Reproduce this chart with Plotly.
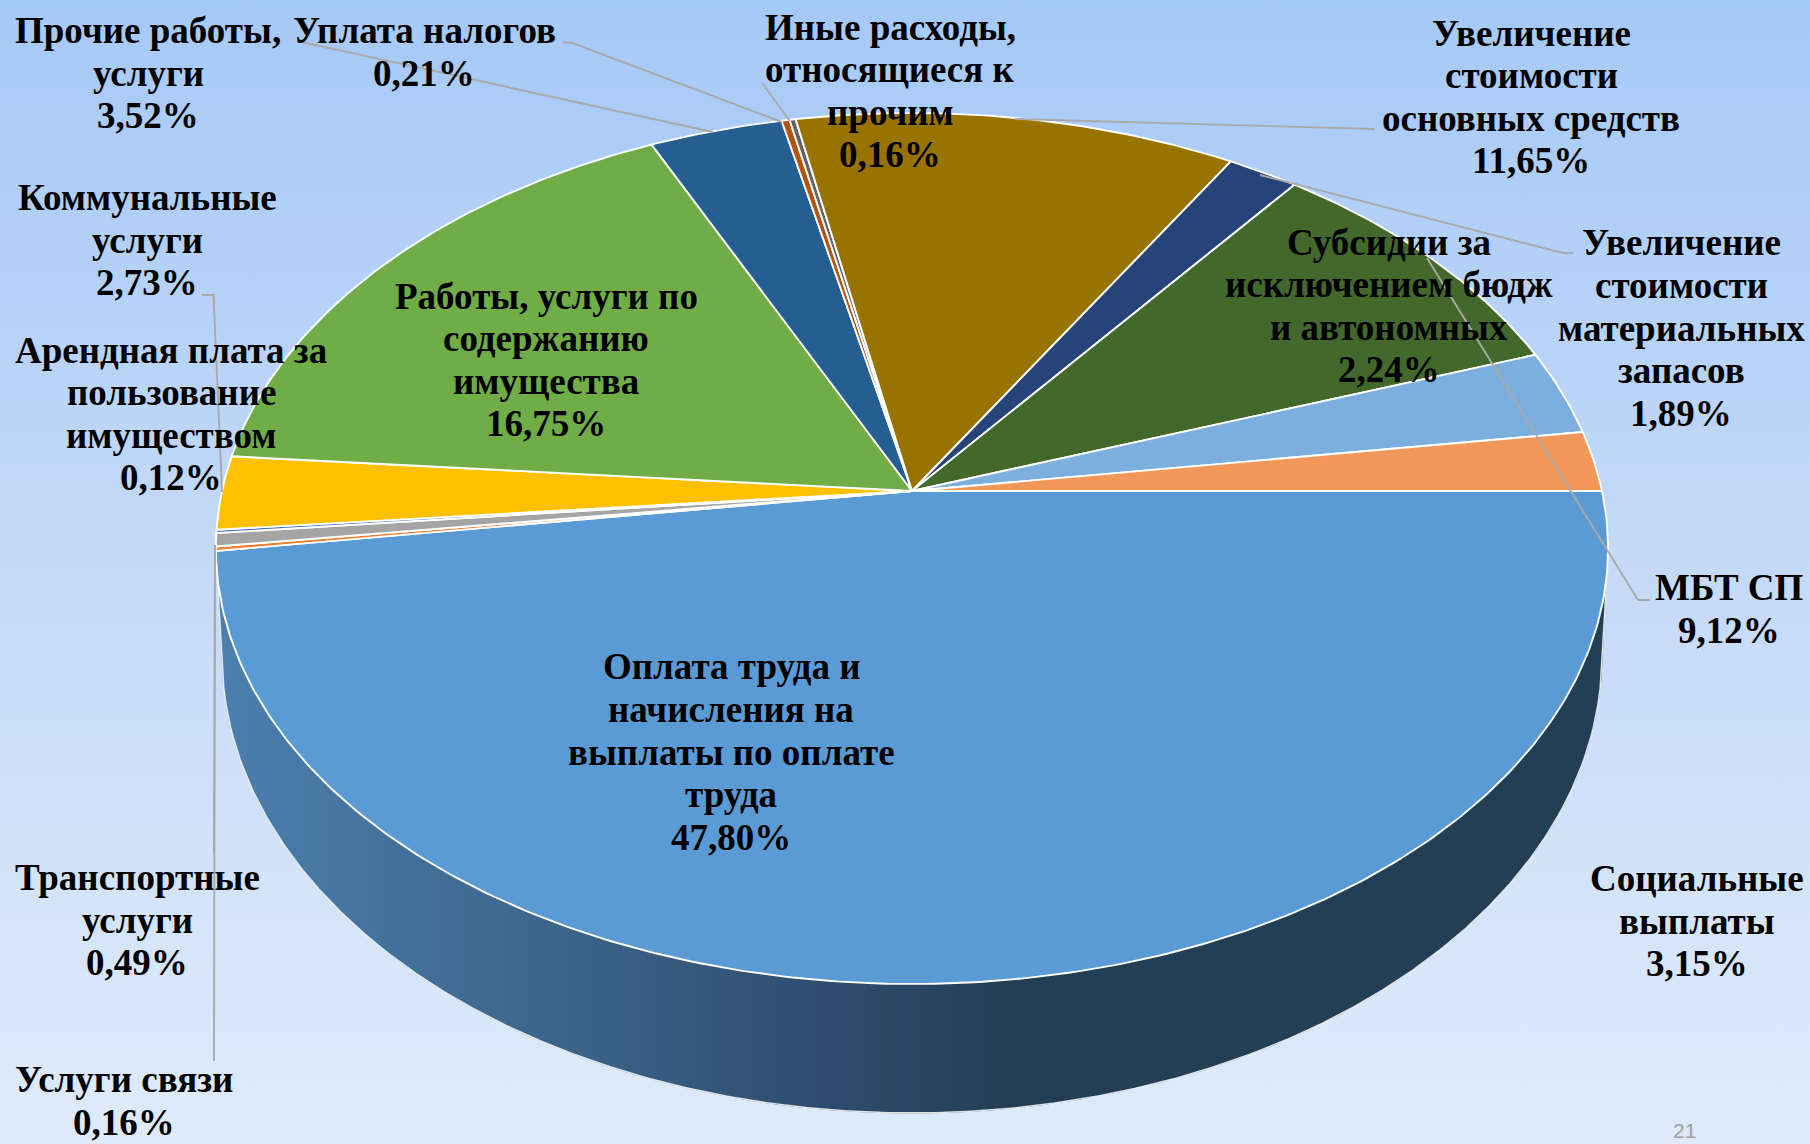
import math
import plotly.graph_objects as go

# ---------- data ----------
categories = [
    "Оплата труда и<br>начисления на<br>выплаты по оплате<br>труда",
    "Услуги связи",
    "Транспортные<br>услуги",
    "Арендная плата за<br>пользование<br>имуществом",
    "Коммунальные<br>услуги",
    "Работы, услуги по<br>содержанию<br>имущества",
    "Прочие работы,<br>услуги",
    "Уплата налогов",
    "Иные расходы,<br>относящиеся к<br>прочим",
    "Увеличение<br>стоимости<br>основных средств",
    "Увеличение<br>стоимости<br>материальных<br>запасов",
    "МБТ СП",
    "Социальные<br>выплаты",
    "Субсидии за<br>исключением бюдж<br>и автономных",
]
values = [47.80, 0.16, 0.49, 0.12, 2.73, 16.75, 3.52, 0.21, 0.16, 11.65, 1.89, 9.12, 3.15, 2.24]
colors = ["#5B9BD5", "#ED7D31", "#A5A5A5", "#4472C4", "#FFC000", "#70AD47", "#255E91",
          "#B8520F", "#636363", "#997300", "#264478", "#43682B", "#7CAFDD", "#F1975A"]
# label block centres (px on the 1810x1144 canvas)
label_x = [731, 124, 137, 171, 147, 546, 148, 424, 890, 1531, 1681, 1729, 1697, 1389]
label_y = [752, 1101, 920, 414, 240, 360, 73, 52, 91, 97, 328, 609, 921, 306]
LINE_STEP = 42.6

# ---------- projection of the 3D pie ----------
W, H = 1810, 1144
CX, CY = 912.0, 491.0
A, B, K = 690.0, 427.9, 0.132
BOT_RX, BOT_RY, BOT_YC = 690.0, 458.0, 655.0
TOP_RX = A / math.sqrt(1 - K * K)
TOP_RY = B / (1 - K * K)
TOP_YC = CY + B * K / (1 - K * K)
WALL_RX = TOP_RX - 1


def project(theta):
    X, Y = math.cos(theta), math.sin(theta)
    w = 1 - K * Y
    return CX + A * X / w, CY + B * Y / w


def top_y(x):
    u = max(0.0, 1 - ((x - CX) / TOP_RX) ** 2)
    return TOP_YC + TOP_RY * math.sqrt(u)


def bot_y(x):
    dx = abs(x - CX)
    if dx >= BOT_RX:  # taper the wall into the rim of the top face
        t = (dx - BOT_RX) / (WALL_RX - BOT_RX)
        return BOT_YC * (1 - t) + top_y(CX + WALL_RX) * t
    return BOT_YC + BOT_RY * math.sqrt(1 - (dx / BOT_RX) ** 2)


def wall_color(x):
    stops = [(216, (76, 127, 175)), (560, (60, 100, 137)), (905, (42, 70, 101)), (1010, (35, 63, 86))]
    if x >= stops[-1][0]:
        return "rgb(35,63,86)"
    for (x0, c0), (x1, c1) in zip(stops, stops[1:]):
        if x0 <= x <= x1:
            t = (x - x0) / (x1 - x0)
            return "rgb(%d,%d,%d)" % tuple(round(a + (b - a) * t) for a, b in zip(c0, c1))
    return "rgb(76,127,175)"


fig = go.Figure()

# ---------- side wall: vertical colour bands on whole-pixel edges ----------
left, right = CX - WALL_RX, CX + WALL_RX
first = math.ceil(left)
edges = [left] + list(range(first, 1011, 10)) + [right]
for x0, x1 in zip(edges, edges[1:]):
    n = max(2, int((x1 - x0) / 2))
    xs = [x0 + (x1 - x0) * i / n for i in range(n + 1)]
    px = xs + xs[::-1]
    py = [top_y(x) - 2 for x in xs] + [bot_y(x) for x in xs[::-1]]
    col = wall_color((x0 + x1) / 2)
    fig.add_trace(go.Scatter(x=px, y=py, mode="lines", fill="toself", fillcolor=col,
                             line=dict(color=col, width=1), showlegend=False, hoverinfo="skip"))
xs = [left + (right - left) * i / 600 for i in range(601)]
fig.add_trace(go.Scatter(x=xs, y=[bot_y(x) for x in xs], mode="lines",
                         line=dict(color="rgba(255,255,255,0.85)", width=1.5),
                         showlegend=False, hoverinfo="skip"))

# ---------- top face slices ----------
total = sum(values)
cum = 0.0
for name, v, col in zip(categories, values, colors):
    a0 = 2 * math.pi * cum / total
    a1 = 2 * math.pi * (cum + v) / total
    cum += v
    n = max(2, int((a1 - a0) / 0.01))
    pts = [project(a0 + (a1 - a0) * i / n) for i in range(n + 1)]
    px = [CX] + [p[0] for p in pts] + [CX]
    py = [CY] + [p[1] for p in pts] + [CY]
    fig.add_trace(go.Scatter(x=px, y=py, mode="lines", fill="toself", fillcolor=col,
                             line=dict(color="white", width=1.9), name=name.replace("<br>", " "),
                             showlegend=False, hoverinfo="skip"))

# ---------- leader lines ----------
leader_lines = [
    [(297, 41), (713, 132)],
    [(563, 42.5), (571, 42.5), (782, 122)],
    [(762, 83), (790, 121)],
    [(1015, 119), (1375, 129)],
    [(1260, 175), (1563, 253), (1573, 253)],
    [(1427, 258), (1638, 600), (1650, 600)],
    [(202, 295), (213.5, 295), (222, 492)],
    [(215, 545), (214, 854)],
    [(215, 545), (214, 1061)],
]
for seg in leader_lines:
    fig.add_trace(go.Scatter(x=[p[0] for p in seg], y=[p[1] for p in seg], mode="lines",
                             line=dict(color="#A9A9A9", width=1.9), showlegend=False, hoverinfo="skip"))

# ---------- labels (one annotation per line, so the line pitch can follow the reference) ----------
annotations = []
for name, v, lx, ly in zip(categories, values, label_x, label_y):
    lines = name.split("<br>") + [f"{v:.2f}".replace(".", ",") + "%"]
    for i, line in enumerate(lines):
        annotations.append(dict(x=lx, y=ly + (i - (len(lines) - 1) / 2) * LINE_STEP, xref="x", yref="y",
                                text=line, showarrow=False, xanchor="center", yanchor="middle",
                                font=dict(family="Liberation Serif", size=37, color="black", weight="bold")))
annotations.append(dict(x=1684, y=1130, xref="x", yref="y", text="21", showarrow=False,
                        xanchor="center", yanchor="middle",
                        font=dict(family="Liberation Sans", size=21, color="#A0A0A0")))

bg = ("data:image/svg+xml;utf8,<svg xmlns='http://www.w3.org/2000/svg' width='1810' height='1144'>"
      "<defs><linearGradient id='g' x1='0' y1='0' x2='0' y2='1'>"
      "<stop offset='0' stop-color='%23A5C9F7'/><stop offset='0.5' stop-color='%23C5DAF8'/>"
      "<stop offset='1' stop-color='%23DFEBFB'/></linearGradient></defs>"
      "<rect width='1810' height='1144' fill='url(%23g)'/></svg>")

fig.update_layout(
    width=W, height=H, margin=dict(l=0, r=0, t=0, b=0),
    paper_bgcolor="#C5DAF8", plot_bgcolor="rgba(0,0,0,0)",
    xaxis=dict(range=[0, W], visible=False, fixedrange=True),
    yaxis=dict(range=[H, 0], visible=False, fixedrange=True),
    annotations=annotations,
    images=[dict(source=bg, xref="paper", yref="paper", x=0, y=1, sizex=1, sizey=1,
                 sizing="stretch", layer="below", xanchor="left", yanchor="top")],
)
fig.write_html("out.html", config=dict(displayModeBar=False),
               post_script="document.body.style.margin='0';document.body.style.overflow='hidden';")
